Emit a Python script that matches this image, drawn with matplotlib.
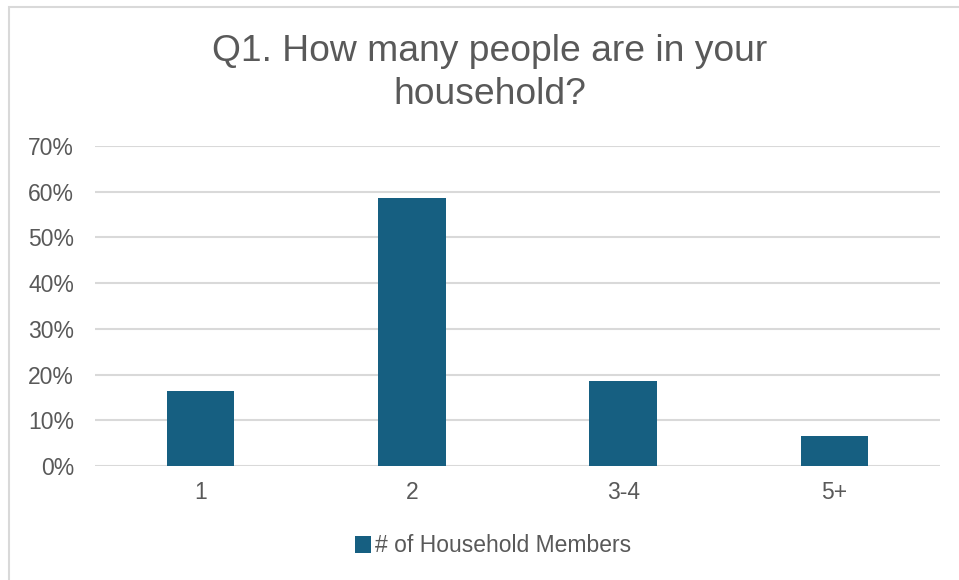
import matplotlib
matplotlib.use("Agg")
import matplotlib.pyplot as plt
from matplotlib.patches import Rectangle
from matplotlib.ticker import PercentFormatter, MultipleLocator

categories = ["1", "2", "3-4", "5+"]
values = [16.4, 58.7, 18.6, 6.6]
series_name = "# of Household Members"
title = "Q1. How many people are in your\nhousehold?"

plt.rcParams['font.family'] = ['Liberation Sans', 'DejaVu Sans']
W, H = 959, 580
fig = plt.figure(figsize=(W/100, H/100), dpi=100)
fig.patch.set_facecolor("white")

# chart area border (partially outside the image)
fig.patches.append(Rectangle((9/W, -0.1), 1.2, 1 - 7/H + 0.1, transform=fig.transFigure,
                             fill=False, edgecolor="#D9D9D9", linewidth=1.5))

ax = fig.add_axes([95/W, 1 - 466/H, (940-95)/W, (466-146)/H])
x = range(len(categories))
ax.bar(x, values, width=0.32, color="#165F81", label=series_name, zorder=3)
ax.set_xlim(-0.5, len(categories) - 0.5)
ax.set_ylim(0, 70)
ax.yaxis.set_major_locator(MultipleLocator(10))
ax.yaxis.set_major_formatter(PercentFormatter(decimals=0))
ax.set_xticks(list(x))
ax.set_xticklabels(categories)
ax.grid(axis="y", color="#D9D9D9", linewidth=1.5, zorder=0)
for s in ax.spines.values():
    s.set_visible(False)
ax.tick_params(axis="both", length=0, labelsize=16.5, colors="#595959")
ax.tick_params(axis="x", pad=11)
ax.tick_params(axis="y", pad=15)

fig.text(490/W, 1 - 73/H, title, ha="center", va="center", fontsize=26.8,
         color="#595959", linespacing=1.32)

leg = fig.legend(loc="center", bbox_to_anchor=(0.514, 1 - 546/H), frameon=False,
                 fontsize=16.5, handlelength=0.7, handleheight=0.7, handletextpad=0.15)
for t in leg.get_texts():
    t.set_color("#595959")

fig.savefig("out.png", dpi=100, facecolor="white")
